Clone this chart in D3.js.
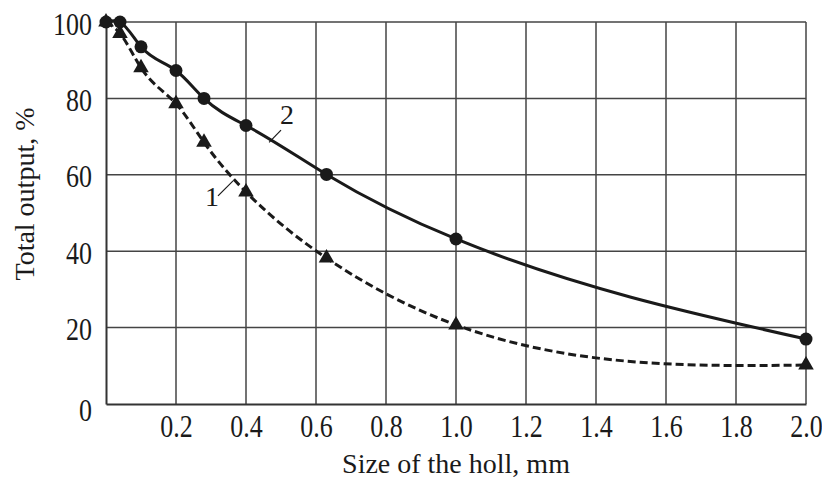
<!DOCTYPE html>
<html>
<head>
<meta charset="utf-8">
<script src="https://cdn.jsdelivr.net/npm/d3@7"></script>
<style>
    body { margin: 0; background: #fff; }
    text { font-family: "Liberation Serif", "Times New Roman", serif; fill: #1a1a1a; }
</style>
</head>
<body>
<div id="chart"></div>
<script>
// sieve hole sizes, mm
var holeSizes = [0, 0.04, 0.1, 0.2, 0.28, 0.4, 0.63, 1.0, 2.0];
// curve 1 (triangles, dashed)
var output1 = [100, 97, 88, 78.6, 68.5, 55.5, 38.2, 20.7, 10.2];
// curve 2 (circles, solid)
var output2 = [100, 100, 93.5, 87.3, 80, 72.9, 60.1, 43.2, 17];
var xTicks = [0.2, 0.4, 0.6, 0.8, 1.0, 1.2, 1.4, 1.6, 1.8, 2.0];
var yTicks = [0, 20, 40, 60, 80, 100];

var margin = { top: 22, right: 16, bottom: 76, left: 106 },
    width = 822 - margin.left - margin.right,
    height = 480 - margin.top - margin.bottom;

// natural cubic spline of y over x, drawn as bezier pieces
function curveSplineX(context) {
    return {
        areaStart: function () { },
        areaEnd: function () { },
        lineStart: function () { this._x = []; this._y = []; },
        point: function (x, y) { this._x.push(+x); this._y.push(+y); },
        lineEnd: function () {
            var xs = this._x, ys = this._y, n = xs.length;
            if (!n) return;
            context.moveTo(xs[0], ys[0]);
            var h = [], s = [];
            for (var i = 0; i < n - 1; i++) {
                h[i] = xs[i + 1] - xs[i];
                s[i] = (ys[i + 1] - ys[i]) / h[i];
            }
            // thomas solve for second derivatives, natural ends
            var M = new Array(n).fill(0), c = [], d = [];
            for (var i = 1; i < n - 1; i++) {
                var a = h[i - 1], b = 2 * (h[i - 1] + h[i]), cc = h[i], r = 6 * (s[i] - s[i - 1]);
                if (i > 1) {
                    var w = b - a * c[i - 1];
                    c[i] = cc / w;
                    d[i] = (r - a * d[i - 1]) / w;
                } else {
                    c[i] = cc / b;
                    d[i] = r / b;
                }
            }
            for (var i = n - 2; i >= 1; i--) {
                M[i] = d[i] - (i < n - 2 ? c[i] * M[i + 1] : 0);
            }
            for (var i = 0; i < n - 1; i++) {
                var m0 = s[i] - h[i] * (2 * M[i] + M[i + 1]) / 6,
                    m1 = s[i] + h[i] * (M[i] + 2 * M[i + 1]) / 6;
                context.bezierCurveTo(
                    xs[i] + h[i] / 3, ys[i] + m0 * h[i] / 3,
                    xs[i + 1] - h[i] / 3, ys[i + 1] - m1 * h[i] / 3,
                    xs[i + 1], ys[i + 1]);
            }
        }
    };
}

var svg = d3.select("#chart")
    .append("svg")
    .attr("width", 822)
    .attr("height", 480)
    .append("g")
    .attr("transform", "translate(" + margin.left + "," + margin.top + ")");

var x = d3.scaleLinear().domain([0, 2]).range([0, width]);
var y = d3.scaleLinear().domain([0, 100]).range([height, 0]);

// grid
svg.append("g")
    .selectAll("line")
    .data(xTicks)
    .enter()
    .append("line")
    .attr("x1", d => x(d)).attr("x2", d => x(d))
    .attr("y1", 0).attr("y2", height)
    .attr("stroke", "#444")
    .attr("stroke-width", 1.5);

svg.append("g")
    .selectAll("line")
    .data(yTicks.filter(d => d > 0))
    .enter()
    .append("line")
    .attr("x1", 0).attr("x2", width)
    .attr("y1", d => y(d)).attr("y2", d => y(d))
    .attr("stroke", "#444")
    .attr("stroke-width", 1.5);

// axes
var xAxis = svg.append("g")
    .attr("transform", "translate(0," + height + ")")
    .call(d3.axisBottom(x).tickValues(xTicks).tickFormat(d3.format(".1f")).tickSize(0));
var yAxis = svg.append("g")
    .call(d3.axisLeft(y).tickValues(yTicks).tickSize(0));

[xAxis, yAxis].forEach(function (ax) {
    ax.select(".domain").attr("stroke", "#333").attr("stroke-width", 2);
    ax.selectAll("text")
        .style("font-family", "'Liberation Serif', 'Times New Roman', serif")
        .style("font-size", "26px")
        .attr("fill", "#1a1a1a")
        .attr("y", 0)
        .attr("dy", 0);
});
// tick digits in the original are a bit taller than wide
xAxis.selectAll(".tick text")
    .attr("transform", "translate(0,33) scale(1,1.2)");
yAxis.selectAll(".tick text")
    .attr("x", 0)
    .attr("transform", d => "translate(-14," + (d == 0 ? 16 : 12) + ") scale(1,1.2)");

svg.append("text")
    .attr("x", width / 2)
    .attr("y", height + 69)
    .attr("text-anchor", "middle")
    .style("font-size", "28px")
    .text("Size of the holl, mm");

svg.append("text")
    .attr("transform", "translate(" + (-72) + "," + (172) + ") rotate(-90)")
    .attr("text-anchor", "middle")
    .style("font-size", "28px")
    .text("Total output, %");

var line = d3.line()
    .x(d => x(d[0]))
    .y(d => y(d[1]))
    .curve(curveSplineX);

var data1 = holeSizes.map((s, i) => [s, output1[i]]);
var data2 = holeSizes.map((s, i) => [s, output2[i]]);

// curve 1
svg.append("path")
    .datum(data1)
    .attr("d", line)
    .attr("fill", "none")
    .attr("stroke", "#1a1a1a")
    .attr("stroke-width", 3)
    .attr("stroke-dasharray", "8,4");

svg.selectAll(".tri")
    .data(data1)
    .enter()
    .append("path")
    .attr("class", "tri")
    .attr("d", d3.symbol().type(d3.symbolTriangle).size(105))
    .attr("transform", d => "translate(" + x(d[0]) + "," + y(d[1]) + ")")
    .attr("fill", "#1a1a1a");

// curve 2
svg.append("path")
    .datum(data2)
    .attr("d", line)
    .attr("fill", "none")
    .attr("stroke", "#1a1a1a")
    .attr("stroke-width", 3);

svg.selectAll(".dot")
    .data(data2)
    .enter()
    .append("circle")
    .attr("class", "dot")
    .attr("cx", d => x(d[0]))
    .attr("cy", d => y(d[1]))
    .attr("r", 6.5)
    .attr("fill", "#1a1a1a");

// curve labels with leader lines
var labels = [
    { name: "1", lx: 0.303, ly: 51.8, from: [0.32, 54.5], to: [0.363, 58.4] },
    { name: "2", lx: 0.517, ly: 73.3, from: [0.466, 68.5], to: [0.5, 71.7] }
];
labels.forEach(function (l) {
    svg.append("line")
        .attr("x1", x(l.from[0])).attr("y1", y(l.from[1]))
        .attr("x2", x(l.to[0])).attr("y2", y(l.to[1]))
        .attr("stroke", "#1a1a1a")
        .attr("stroke-width", 1.2);
    svg.append("text")
        .attr("x", x(l.lx))
        .attr("y", y(l.ly))
        .attr("text-anchor", "middle")
        .style("font-size", "28px")
        .text(l.name);
});
</script>
</body>
</html>
